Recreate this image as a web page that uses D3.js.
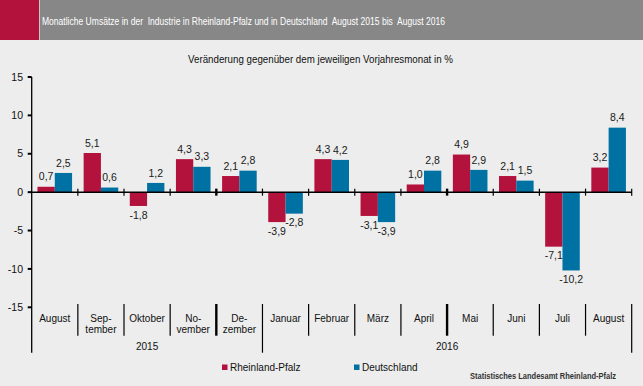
<!DOCTYPE html>
<html><head><meta charset="utf-8">
<script src="https://cdn.jsdelivr.net/npm/d3@7"></script>
<style>
html,body{margin:0;padding:0;background:#ecedec;}
svg{display:block;font-family:"Liberation Sans",Arial,sans-serif;}
</style></head>
<body>
<svg id="c" width="643" height="386"></svg>
<script>
const months = ["August","Sep-\ntember","Oktober","No-\nvember","De-\nzember","Januar","Februar","März","April","Mai","Juni","Juli","August "];
const years = [{label:"2015", from:0, to:5},{label:"2016", from:5, to:13}];
const seriesNames = ["Rheinland-Pfalz","Deutschland"];
const rlp = [0.7,5.1,-1.8,4.3,2.1,-3.9,4.3,-3.1,1.0,4.9,2.1,-7.1,3.2];
const de  = [2.5,0.6,1.2,3.3,2.8,-2.8,4.2,-3.9,2.8,2.9,1.5,-10.2,8.4];
const yTicks = [-15,-10,-5,0,5,10,15];
const title = "Monatliche Umsätze in der  Industrie in Rheinland-Pfalz und in Deutschland  August 2015 bis  August 2016";
const subtitle = "Veränderung gegenüber dem jeweiligen Vorjahresmonat in %";
const source = "Statistisches Landesamt Rheinland-Pfalz";

const colors = {"Rheinland-Pfalz":"#b3123d","Deutschland":"#0071a3"};
const svg = d3.select("#c");

// header
svg.append("rect").attr("x",0).attr("y",0).attr("width",643).attr("height",40).attr("fill","#878787");
svg.append("rect").attr("x",0).attr("y",0).attr("width",39).attr("height",40).attr("fill","#b3123d");
svg.append("rect").attr("x",39).attr("y",0).attr("width",0.8).attr("height",40).attr("fill","#d8d8d8");
svg.append("text").attr("x",42).attr("y",25).attr("fill","#ffffff").attr("font-size",11.5)
  .attr("textLength",403).attr("lengthAdjust","spacingAndGlyphs").style("white-space","pre").text(title);

svg.append("text").attr("x",320.5).attr("y",62.5).attr("text-anchor","middle").attr("font-size",10.5)
  .attr("fill","#111").attr("textLength",265).attr("lengthAdjust","spacingAndGlyphs").text(subtitle);

const left = 31.7, right = 631.7;
const y = d3.scaleLinear().domain([-15,15]).range([307.3,77]);
const x0 = d3.scaleBand().domain(d3.range(months.length)).range([left,right]).padding(0);
const x1 = d3.scaleBand().domain(seriesNames).range([0,x0.bandwidth()]).paddingInner(0).paddingOuter(0.334);

const data = months.map((m,i)=>({i, vals:[{s:seriesNames[0],v:rlp[i]},{s:seriesNames[1],v:de[i]}]}));
const fmt = v => d3.format(".1f")(v).replace(".",",").replace("−","-");

// bars
const g = svg.append("g").selectAll("g").data(data).join("g").attr("transform",d=>`translate(${x0(d.i)},0)`);
g.selectAll("rect").data(d=>d.vals).join("rect")
  .attr("x",d=>x1(d.s)).attr("width",x1.bandwidth())
  .attr("y",d=>y(Math.max(0,d.v))).attr("height",d=>Math.abs(y(d.v)-y(0)))
  .attr("fill",d=>colors[d.s]);
g.selectAll("text").data(d=>d.vals).join("text")
  .attr("x",d=>x1(d.s)+x1.bandwidth()/2)
  .attr("y",d=>d.v>=0 ? y(d.v)-10 : y(d.v)+9)
  .attr("dy","0.35em").attr("text-anchor","middle").attr("font-size",10.5).attr("fill","#1a1a1a")
  .text(d=>fmt(d.v));

// y axis
svg.append("line").attr("x1",left).attr("x2",left).attr("y1",y(15)).attr("y2",352.7).attr("stroke","#000").attr("stroke-width",1.3);
svg.append("g").selectAll("line").data(yTicks).join("line")
  .attr("x1",left-4).attr("x2",left).attr("y1",d=>y(d)).attr("y2",d=>y(d)).attr("stroke","#000").attr("stroke-width",2);
svg.append("g").selectAll("text").data(yTicks).join("text")
  .attr("x",23).attr("y",d=>y(d)).attr("dy","0.35em").attr("text-anchor","end").attr("font-size",10.5).attr("fill","#111")
  .text(d=>d);

// zero line
svg.append("line").attr("x1",left).attr("x2",right).attr("y1",y(0)).attr("y2",y(0)).attr("stroke","#000").attr("stroke-width",1.5);
const bounds = d3.range(1, months.length+1);
const thick = new Set([4,9]);
svg.append("g").selectAll("line").data(bounds).join("line")
  .attr("x1",d=>d===months.length?right:x0(d)).attr("x2",d=>d===months.length?right:x0(d))
  .attr("y1",y(0)-3.5).attr("y2",y(0)+3.5).attr("stroke","#000").attr("stroke-width",d=>thick.has(d)?2.4:1.2);

// category dividers
const longB = new Set([5,13]);
svg.append("g").selectAll("line").data(bounds).join("line")
  .attr("x1",d=>d===months.length?right:x0(d)).attr("x2",d=>d===months.length?right:x0(d))
  .attr("y1",304).attr("y2",d=>longB.has(d)?352.7:335.7).attr("stroke","#000").attr("stroke-width",d=>thick.has(d)?2.4:1.2);

// month labels
const ml = svg.append("g").selectAll("text").data(months).join("text")
  .attr("text-anchor","middle").attr("font-size",10).attr("fill","#111");
ml.each(function(m,i){
  const lines = m.trim().split("\n");
  const t = d3.select(this);
  lines.forEach((l,k)=>{
    t.append("tspan").attr("x",x0(i)+x0.bandwidth()/2).attr("y",318.3+k*11).attr("dy","0.35em").text(l);
  });
});

// year labels
svg.append("g").selectAll("text").data(years).join("text")
  .attr("x",d=>(x0(d.from)+(d.to===months.length?right:x0(d.to)))/2).attr("y",346.7).attr("dy","0.35em")
  .attr("text-anchor","middle").attr("font-size",10).attr("fill","#111").text(d=>d.label);

// legend
const legX = [222, 354];
const lg = svg.append("g").selectAll("g").data(seriesNames).join("g").attr("transform",(d,i)=>`translate(${legX[i]},367.5)`);
lg.append("rect").attr("x",0).attr("y",-3).attr("width",5.5).attr("height",5.5).attr("fill",d=>colors[d]);
lg.append("text").attr("x",8).attr("y",0).attr("dy","0.35em").attr("font-size",10).attr("fill","#111").text(d=>d);

// source
svg.append("text").attr("x",470).attr("y",376).attr("dy","0.35em").attr("font-size",8.5).attr("font-weight","bold")
  .attr("fill","#333").attr("textLength",146).attr("lengthAdjust","spacingAndGlyphs").text(source);
</script>
</body></html>
